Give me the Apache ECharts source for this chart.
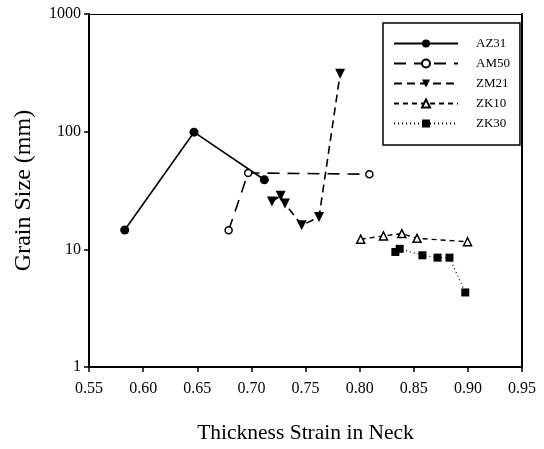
<!DOCTYPE html>
<html>
<head>
<meta charset="utf-8">
<script src="https://cdn.jsdelivr.net/npm/echarts@6/dist/echarts.min.js"></script>
<style>html,body{margin:0;padding:0;background:#fff}#c{width:544px;height:449px}</style>
</head>
<body>
<div id="c"></div>
<script>
const xTicks = [0.55, 0.60, 0.65, 0.70, 0.75, 0.80, 0.85, 0.90, 0.95];
const yTicks = [1, 10, 100, 1000];
const AZ31 = [[0.583, 14.6], [0.647, 99], [0.712, 39]];
const AM50 = [[0.679, 14.5], [0.697, 44.6], [0.809, 43.5]];
const ZM21 = [[0.719, 25.5], [0.727, 28.6], [0.731, 24.5], [0.7465, 16.0], [0.7625, 18.8], [0.782, 310]];
const ZK10 = [[0.801, 12.2], [0.822, 13.0], [0.839, 13.6], [0.853, 12.4], [0.8997, 11.6]];
const ZK30 = [[0.833, 9.5], [0.837, 10.1], [0.858, 8.9], [0.872, 8.5], [0.883, 8.5], [0.8976, 4.3]];

const FONT = '"Liberation Serif", "DejaVu Serif", serif';
const chart = echarts.init(document.getElementById('c'), null, {renderer: 'canvas'});
const downTri = 'path://M0,0 L10,0 L5,9 Z';
function ser(name, data, dash, symbol, size, filled, width) {
  return {
    name, type: 'line', data,
    symbol, symbolSize: size, showSymbol: true,
    lineStyle: {color: '#000', width: width, type: dash},
    itemStyle: {color: filled ? '#000' : '#fff', borderColor: '#000', borderWidth: filled ? 0 : 1.5},
    emphasis: {disabled: true},
    animation: false,
    z: 3
  };
}
chart.setOption({
  animation: false,
  grid: {left: 89, right: 22, top: 14, bottom: 78, containLabel: false},
  xAxis: [{
    type: 'value', min: xTicks[0], max: xTicks[xTicks.length - 1], interval: 0.05,
    name: 'Thickness Strain in Neck', nameLocation: 'middle', nameGap: 55,
    nameTextStyle: {fontFamily: FONT, fontSize: 21.5, color: '#000'},
    axisLine: {show: true, lineStyle: {color: '#000', width: 2}},
    axisTick: {show: true, length: 5, lineStyle: {color: '#000', width: 1.5}},
    axisLabel: {fontFamily: FONT, fontSize: 16, color: '#000', margin: 14,
      formatter: v => xTicks.some(t => Math.abs(t - v) < 1e-6) ? v.toFixed(2) : ''},
    splitLine: {show: false}
  }, {
    type: 'value', position: 'top', min: 0, max: 1,
    axisLine: {show: true, lineStyle: {color: '#000', width: 1}},
    axisTick: {show: false}, axisLabel: {show: false}, splitLine: {show: false}
  }],
  yAxis: [{
    type: 'log', logBase: 10, min: yTicks[0], max: yTicks[yTicks.length - 1],
    name: 'Grain Size (mm)', nameLocation: 'middle', nameGap: 53,
    nameTextStyle: {fontFamily: FONT, fontSize: 24, color: '#000'},
    axisLine: {show: true, lineStyle: {color: '#000', width: 2}},
    axisTick: {show: true, length: 5, lineStyle: {color: '#000', width: 1.5}},
    axisLabel: {fontFamily: FONT, fontSize: 16, color: '#000', margin: 8,
      formatter: v => String(Math.round(v))},
    minorTick: {show: false},
    splitLine: {show: false}
  }, {
    type: 'value', position: 'right', min: 0, max: 1,
    axisLine: {show: true, lineStyle: {color: '#000', width: 2}},
    axisTick: {show: false}, axisLabel: {show: false}, splitLine: {show: false}
  }],
  legend: {
    orient: 'vertical', left: 383, top: 23,
    itemWidth: 64, itemHeight: 10, itemGap: 7,
    padding: [14, 10, 15, 10],
    borderColor: '#000', borderWidth: 1.5, backgroundColor: '#fff',
    textStyle: {fontFamily: FONT, fontSize: 13, color: '#000', padding: [0, 0, 0, 13]},
    data: ['AZ31', 'AM50', 'ZM21', 'ZK10', 'ZK30']
  },
  series: [
    ser('AZ31', AZ31, 'solid', 'circle', 9, true, 1.6),
    ser('AM50', AM50, [12, 8], 'circle', 7, false, 1.6),
    ser('ZM21', ZM21, [8, 5], downTri, 10, true, 1.6),
    ser('ZK10', ZK10, [5, 4], 'triangle', 8, false, 1.4),
    ser('ZK30', ZK30, [1, 3], 'rect', 8, true, 1.2)
  ]
});
</script>
</body>
</html>
